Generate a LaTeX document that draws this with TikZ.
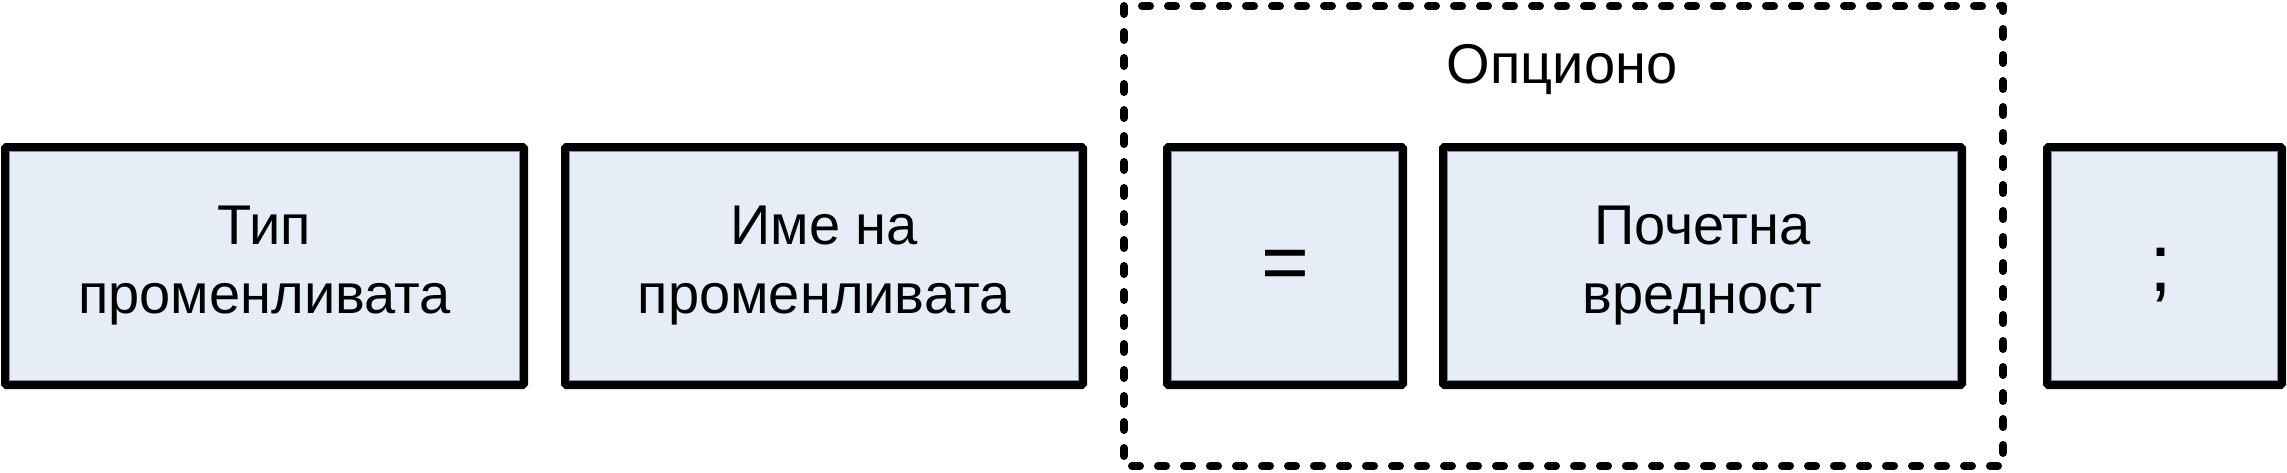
\documentclass[tikz,border=0pt]{standalone}
\usepackage{fontspec}
\setmainfont{Liberation Sans}
\definecolor{boxfill}{RGB}{230,237,247}
\definecolor{boxinner}{RGB}{135,140,155}
\begin{document}
\begin{tikzpicture}[x=1pt,y=-1pt,
  fieldbox/.style={draw=black, line width=8pt, fill=boxfill, outer sep=0pt,
    inner sep=0pt, minimum height=238pt, rounded corners=1.5pt, align=center,
    font=\fontsize{56}{69}\selectfont},
  twoline/.style={execute at begin node={\rule{0pt}{45pt}}},
  bigsym/.style={font=\fontsize{82}{90}\selectfont},
  innerline/.style={draw=boxinner, line width=1pt},
  optframe/.style={draw=black, line width=8pt, dash pattern=on 8pt off 18pt,
    line cap=round, line join=round},
  optlabel/.style={font=\fontsize{56}{67}\selectfont, inner sep=0pt}]
\useasboundingbox (0,0) rectangle (2287,472);
\node[fieldbox, twoline, minimum width=519pt] (b1) at (264.5,266) {Тип\\променливата};
\node[fieldbox, twoline, minimum width=518pt] (b2) at (824,266) {Име на\\променливата};
\node[fieldbox, minimum width=236pt, bigsym, text height=49pt] (b3) at (1285,266) {=};
\node[fieldbox, twoline, minimum width=519pt] (b4) at (1702.5,266) {Почетна\\вредност};
\node[fieldbox, minimum width=235pt, bigsym, text height=62pt] (b5) at (2164.5,266) {\kern-8pt;};
\foreach \b in {b1,b2,b3,b4,b5}
  \draw[innerline] ([shift={(4.5,4.5)}]\b.north west) rectangle ([shift={(-4.5,-4.5)}]\b.south east);
\coordinate (optnw) at (1124,6);
\coordinate (optse) at (2003,466);
\draw[optframe] (optnw) rectangle (optse);
\node[optlabel, anchor=base] (opt) at (1562,83) {Опционо};
\end{tikzpicture}
\end{document}
